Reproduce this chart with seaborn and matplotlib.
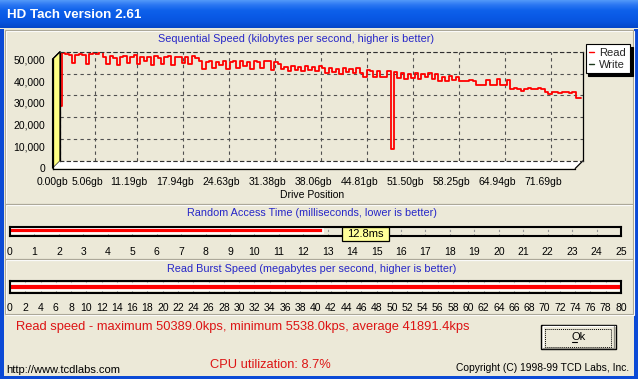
import numpy as np
import pandas as pd
import matplotlib
matplotlib.use("Agg")
import matplotlib.pyplot as plt
import seaborn as sns
from matplotlib.patches import Rectangle, Polygon
from matplotlib.lines import Line2D
from matplotlib.colors import LinearSegmentedColormap

sns.set_style("white")
plt.rcParams['font.family'] = ['Liberation Sans', 'DejaVu Sans']

# ---------------- data ----------------
window_title = "HD Tach version 2.61"
seq_title = "Sequential Speed (kilobytes per second, higher is better)"
seq_xlabel = "Drive Position"
access_title = "Random Access Time (milliseconds, lower is better)"
burst_title = "Read Burst Speed (megabytes per second, higher is better)"
series_names = ["Read", "Write"]

sample_step_gb = 0.5
read_speed_k = [
    25.2,
    49.2, 48.8, 48.7, 44.9, 48.6, 48.9, 48.7, 44.6, 49.0, 49.6, 48.8,
    50.39, 47.6, 44.3, 47.9, 47.2, 44.0, 47.7, 47.9, 44.8, 47.5, 48.3, 44.2,
    47.8, 45.6, 47.6, 44.1, 47.9, 47.3, 44.5, 47.7, 48.0, 44.0, 47.4, 47.8,
    45.0, 47.6, 44.3, 47.9, 47.2,
    45.6, 42.1, 45.4, 45.8, 42.6, 45.5, 44.0, 45.7, 41.9, 45.3, 45.9, 42.4,
    45.6, 43.5, 45.4, 42.0, 45.8, 45.2, 42.7, 45.6, 45.9, 41.8, 45.3, 44.6, 42.3,
    43.2, 41.1, 43.4, 41.5, 42.9, 41.0, 43.3, 41.4, 43.0, 41.2, 43.4,
    42.4, 40.1, 42.6, 40.6, 42.2, 40.0, 42.5, 40.8, 42.3, 40.2, 42.6, 40.4,
    38.4, 41.4, 41.3, 38.3, 41.2, 38.5, 38.4, 41.3,
    5.538,
    40.6,
    38.0, 40.2, 37.4, 39.8, 37.8, 40.3, 37.3, 39.6, 38.2, 40.1, 37.5, 39.9,
    36.6, 38.6, 36.4, 38.8, 37.2, 38.3, 36.5, 36.8, 36.4, 37.0, 36.5,
    34.8, 34.6, 34.7, 37.2, 34.6, 34.8, 37.3, 34.7, 34.6, 37.0,
    33.1, 33.2, 33.0, 32.0, 33.1, 33.2, 33.1, 33.0, 33.2, 33.1,
    31.7, 30.8, 31.6, 31.5, 30.9, 31.6, 31.7, 31.0, 31.6,
    29.0, 29.0,
]
drive_tick_gb = [0.00, 5.06, 11.19, 17.94, 24.63, 31.38, 38.06, 44.81,
                 51.50, 58.25, 64.94, 71.69]
drive_tick_labels = ["0.00gb", "5.06gb", "11.19gb", "17.94gb", "24.63gb",
                     "31.38gb", "38.06gb", "44.81gb", "51.50gb", "58.25gb",
                     "64.94gb", "71.69gb"]
speed_ticks = [0, 10000, 20000, 30000, 40000, 50000]
access_ms = 12.8
access_ticks = list(range(0, 26))
burst_mbps = 80.0
burst_ticks = list(range(0, 81, 2))
read_max_kps = 50389.0
read_min_kps = 5538.0
read_avg_kps = 41891.4
cpu_util_pct = 8.7

df = pd.DataFrame({"gb": np.arange(len(read_speed_k)) * sample_step_gb,
                   "kps": np.array(read_speed_k) * 1000.0})

# ---------------- layout ----------------
W, H = 638, 379
BG = '#ECE9D8'
BLUE_TXT = '#2626C8'
RED_TXT = '#DD1414'
BACK = (60, 51.7, 582.7, 161)
DEPTH = 7.5
X_MAX = 76.3
Y_MAX = 50000

fig = plt.figure(figsize=(W / 100, H / 100), dpi=100)
fig.patch.set_facecolor(BG)


def frac(l, t, r, b):
    return [l / W, 1 - b / H, (r - l) / W, (b - t) / H]


deco = fig.add_axes([0, 0, 1, 1], zorder=0)
deco.axis('off')

# title bar
cmap = LinearSegmentedColormap.from_list(
    'tb', ['#5A9FFA', '#2A76F2', '#0D60EA', '#0A5AE6', '#0753DD', '#0446C8'])
grad = np.linspace(0, 1, 60).reshape(-1, 1)
deco.imshow(grad, cmap=cmap, extent=[0, W, 28.5, 0], aspect='auto',
            interpolation='bilinear')
deco.set_xlim(0, W)
deco.set_ylim(H, 0)
deco.text(7, 14.8, window_title, color='white', fontsize=9.6,
          fontweight='bold', va='center', ha='left')

# window frame
frame_c = '#0B4AD6'
deco.add_patch(Rectangle((0, 28.5), 3.6, H, color=frame_c, lw=0))
deco.add_patch(Rectangle((634.4, 28.5), 4, H, color=frame_c, lw=0))
deco.add_patch(Rectangle((0, 376), W, 4, color=frame_c, lw=0))


def etched(l, t, r, b):
    deco.add_patch(Rectangle((l + 1, t + 1), r - l, b - t, fill=False,
                             ec='white', lw=0.8))
    deco.add_patch(Rectangle((l, t), r - l, b - t, fill=False,
                             ec='#ACA899', lw=0.8))


etched(4.5, 30, 632.5, 203.5)
etched(4.5, 203.5, 632.5, 258.8)
etched(4.5, 258.8, 632.5, 314)

# 3D wall and floor
bl, bt, br, bb = BACK
fl, ft, fr, fb = bl - DEPTH, bt + DEPTH, br - DEPTH, bb + DEPTH
deco.add_patch(Polygon([(fl, ft), (bl, bt), (bl, bb), (fl, fb)],
                       closed=True, fc='#FFFF84', ec='black', lw=0.8))
deco.add_patch(Polygon([(bl, bb), (br, bb), (fr, fb), (fl, fb)],
                       closed=True, fc='white', ec='none'))
deco.plot([br, fr], [bb, fb], color='black', lw=0.9)
deco.plot([fl, bl], [ft, bt], color='black', lw=0.9)

# ---------------- sequential chart (back plane) ----------------
back = fig.add_axes(frac(*BACK), zorder=2)
back.set_facecolor('none')
sns.lineplot(data=df, x='gb', y='kps', ax=back, color='#FF0000',
             linewidth=1.3, drawstyle='steps-mid', errorbar=None,
             legend=False)
back.set_xlim(0, X_MAX)
back.set_ylim(0, Y_MAX)
back.set_xticks(drive_tick_gb)
back.set_yticks(speed_ticks)
back.tick_params(length=0, labelbottom=False, labelleft=False)
back.set_xlabel('')
back.set_ylabel('')
back.grid(True, color='#505050', linestyle=(0, (3, 3)), linewidth=0.8)
back.set_axisbelow(True)
for s in ['top', 'bottom']:
    back.spines[s].set_visible(True)
    back.spines[s].set_linestyle((0, (3, 3)))
    back.spines[s].set_color('#303030')
    back.spines[s].set_linewidth(0.8)
for s in ['left', 'right']:
    back.spines[s].set_color('black')
    back.spines[s].set_linewidth(0.9)

# front axis (ticks/labels)
front = fig.add_axes(frac(fl, ft, fr, fb), zorder=3)
front.set_facecolor('none')
front.set_xlim(0, X_MAX)
front.set_ylim(0, Y_MAX)
for s in ['top', 'right']:
    front.spines[s].set_visible(False)
for s in ['left', 'bottom']:
    front.spines[s].set_color('black')
    front.spines[s].set_linewidth(0.9)
front.set_yticks(speed_ticks)
front.set_yticklabels([f"{v:,}" for v in speed_ticks])
front.set_xticks(drive_tick_gb)
front.set_xticklabels(drive_tick_labels)
mids = [(a + b) / 2 for a, b in zip(drive_tick_gb[:-1], drive_tick_gb[1:])]
mids.append(drive_tick_gb[-1] + (drive_tick_gb[-1] - drive_tick_gb[-2]) / 2)
front.set_xticks(mids, minor=True)
front.tick_params(axis='both', which='major', direction='out', length=3.6,
                  width=0.8, labelsize=7.5, colors='black')
front.tick_params(axis='x', which='major', pad=2.2)
front.tick_params(axis='y', which='major', pad=1.8)
front.tick_params(axis='x', which='minor', direction='out', length=2.2,
                  width=0.8)

deco.text(296.5, 39.5, seq_title, color=BLUE_TXT, fontsize=7.8,
          ha='center', va='center')
deco.text(312, 195.5, seq_xlabel, color='black', fontsize=7.5,
          ha='center', va='center')

handles = [Line2D([0], [0], color='#FF0000', lw=1.0),
           Line2D([0], [0], color='#1E3A1E', lw=1.0)]
leg = fig.legend(handles, series_names, loc='upper left',
                 bbox_to_anchor=(585.5 / W, 1 - 44 / H),
                 bbox_transform=fig.transFigure, fontsize=8,
                 handlelength=0.45, handletextpad=0.45, labelspacing=0.15,
                 borderpad=0.35, borderaxespad=0, frameon=True,
                 fancybox=False, shadow={'color': 'black', 'alpha': 1.0},
                 edgecolor='black', facecolor='white', framealpha=1)
leg.get_frame().set_linewidth(0.8)

# ---------------- random access bar ----------------
deco.text(312, 213.5, access_title, color=BLUE_TXT, fontsize=7.8,
          ha='center', va='center')
acc = fig.add_axes(frac(10, 226.5, 621, 236), zorder=3)
acc.set_facecolor(BG)
sns.barplot(x=[access_ms], y=[0], orient='h', ax=acc, color='#FF0000',
            edgecolor='white', linewidth=1.3, width=0.56, saturation=1)
acc.set_xlim(0, 25)
acc.set_ylim(0.6, -0.4)
acc.set_yticks([])
acc.set_xticks(access_ticks)
acc.set_xticks(np.arange(0, 25.01, 0.2), minor=True)
acc.grid(axis='x', which='major', color='#9A9A9A', linestyle=(0, (2, 2)),
         linewidth=0.8)
acc.set_axisbelow(True)
acc.set_xlabel('')
acc.set_ylabel('')
for s in acc.spines.values():
    s.set_color('black')
    s.set_linewidth(1.5)
acc.tick_params(axis='x', which='major', direction='out', length=3.6,
                width=0.8, labelsize=7.5, pad=4.5, colors='black')
acc.tick_params(axis='x', which='minor', direction='out', length=2.2,
                width=0.7)

# ---------------- burst bar ----------------
deco.text(312, 269.3, burst_title, color=BLUE_TXT, fontsize=7.8,
          ha='center', va='center')
bur = fig.add_axes(frac(10, 281.3, 621, 293.3), zorder=3)
bur.set_facecolor(BG)
sns.barplot(x=[burst_mbps], y=[0], orient='h', ax=bur, color='#FF0000',
            edgecolor='white', linewidth=1.3, width=0.5, saturation=1)
bur.set_xlim(0, 80)
bur.set_ylim(0.53, -0.47)
bur.set_yticks([])
bur.set_xticks(burst_ticks)
bur.set_xticks(np.arange(0, 80.01, 1), minor=True)
bur.grid(axis='x', which='major', color='#9A9A9A', linestyle=(0, (2, 2)),
         linewidth=0.8)
bur.set_axisbelow(True)
bur.set_xlabel('')
bur.set_ylabel('')
for s in bur.spines.values():
    s.set_color('black')
    s.set_linewidth(1.5)
bur.tick_params(axis='x', which='major', direction='out', length=3.6,
                width=0.8, labelsize=7.5, pad=3.6, colors='black')
bur.tick_params(axis='x', which='minor', direction='out', length=2.2,
                width=0.7)

# ---------------- overlay (labels, texts, button) ----------------
over = fig.add_axes([0, 0, 1, 1], zorder=10)
over.set_xlim(0, W)
over.set_ylim(H, 0)
over.axis('off')

x_end = acc.transData.transform((access_ms, 0))[0]
bx0 = x_end + 19.5
over.add_patch(Rectangle((bx0, 227.3), 46.7, 13.7, fc='#FFFF99',
                         ec='black', lw=0.9))
over.text(bx0 + 23.35, 234.3, f"{access_ms}ms", fontsize=8, ha='center',
          va='center', color='black')

over.text(16, 326.7,
          f"Read speed - maximum {read_max_kps:.1f}kps, minimum "
          f"{read_min_kps:.1f}kps, average {read_avg_kps:.1f}kps",
          color=RED_TXT, fontsize=9.3, ha='left', va='center')
over.text(210, 365, f"CPU utilization: {cpu_util_pct}%", color=RED_TXT,
          fontsize=9.3, ha='left', va='center')
over.text(6, 370, "http://www.tcdlabs.com", color='black', fontsize=8,
          ha='left', va='center')
over.text(629.5, 368.3, "Copyright (C) 1998-99 TCD Labs, Inc.",
          color='black', fontsize=7.4, ha='right', va='center')

# Ok button
over.add_patch(Rectangle((541.3, 325), 74.4, 24.3, fc=BG, ec='black', lw=1.0))
over.plot([542.5, 614.5], [326.3, 326.3], color='white', lw=0.9)
over.plot([542.5, 542.5], [326.3, 348], color='white', lw=0.9)
over.plot([542.5, 614.5], [347.9, 347.9], color='#8C8A80', lw=0.9)
over.plot([614.4, 614.4], [326.3, 348], color='#8C8A80', lw=0.9)
over.add_patch(Rectangle((545, 329.3), 66.3, 17.4, fill=False, ec='black',
                         lw=0.7, linestyle=(0, (1, 1))))
over.text(578.5, 337.2, "Ok", fontsize=8, ha='center', va='center',
          color='black')
over.plot([571.8, 577.2], [342.2, 342.2], color='black', lw=0.8)

fig.savefig("out.png", dpi=100, facecolor=BG)
